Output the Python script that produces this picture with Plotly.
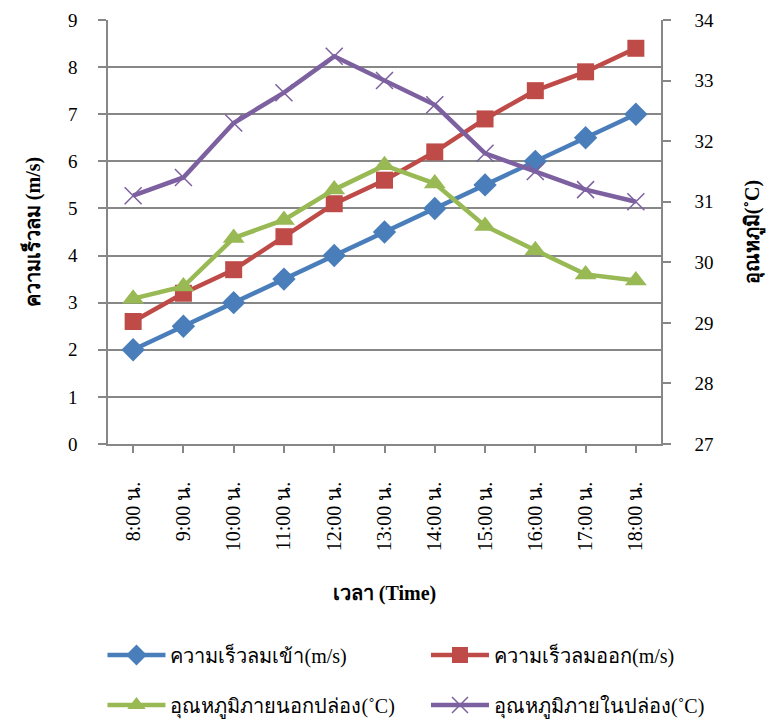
import plotly.graph_objects as go

categories = ["8:00 น.", "9:00 น.", "10:00 น.", "11:00 น.", "12:00 น.", "13:00 น.",
              "14:00 น.", "15:00 น.", "16:00 น.", "17:00 น.", "18:00 น."]
wind_in = [2.0, 2.5, 3.0, 3.5, 4.0, 4.5, 5.0, 5.5, 6.0, 6.5, 7.0]
wind_out = [2.6, 3.2, 3.7, 4.4, 5.1, 5.6, 6.2, 6.9, 7.5, 7.9, 8.4]
temp_out = [29.4, 29.6, 30.4, 30.7, 31.2, 31.6, 31.3, 30.6, 30.2, 29.8, 29.7]
temp_in = [31.1, 31.4, 32.3, 32.8, 33.4, 33.0, 32.6, 31.8, 31.5, 31.2, 31.0]

names = ["ความเร็วลมเข้า(m/s)", "ความเร็วลมออก(m/s)",
         "อุณหภูมิภายนอกปล่อง(˚C)", "อุณหภูมิภายในปล่อง(˚C)"]

FONT = "Liberation Serif, Times New Roman, serif"
GRID = "#878787"

fig = go.Figure()
fig.add_trace(go.Scatter(x=categories, y=wind_in, name=names[0], mode="lines+markers",
                         line=dict(color="#4A7EBB", width=4.5),
                         marker=dict(symbol="diamond", size=18, color="#4A7EBB"),
                         legend="legend", showlegend=True))
fig.add_trace(go.Scatter(x=categories, y=wind_out, name=names[1], mode="lines+markers",
                         line=dict(color="#BE4B48", width=4.5),
                         marker=dict(symbol="square", size=17, color="#BE4B48"),
                         legend="legend2", showlegend=True))
fig.add_trace(go.Scatter(x=categories, y=temp_out, name=names[2], mode="lines+markers",
                         line=dict(color="#98B954", width=4.5),
                         marker=dict(symbol="triangle-up", size=19, color="#98B954"),
                         yaxis="y2", legend="legend3", showlegend=True))
fig.add_trace(go.Scatter(x=categories, y=temp_in, name=names[3], mode="lines+markers",
                         line=dict(color="#7D60A0", width=4.5),
                         marker=dict(symbol="x-thin-open", size=17, color="#7D60A0",
                                     line=dict(color="#7D60A0", width=1.5)),
                         yaxis="y2", legend="legend4", showlegend=True))

def leg(x, y):
    return dict(orientation="h", x=x, xanchor="left", y=y, yanchor="middle",
                font=dict(size=20), itemwidth=58, bgcolor="rgba(0,0,0,0)")

fig.update_layout(
    width=774, height=722,
    showlegend=True,
    margin=dict(l=108, r=113, t=20, b=278, autoexpand=False),
    paper_bgcolor="white", plot_bgcolor="white",
    font=dict(family=FONT, size=19, color="black"),
    xaxis=dict(type="category", showline=True, linecolor=GRID, linewidth=1.5,
               ticks="outside", ticklen=7, tickcolor=GRID, tickwidth=1.5,
               tickangle=-90, tickfont=dict(size=20), showgrid=False,
               ticklabelstandoff=21,
               range=[-0.5, 10.5],
               title=dict(text="<b>เวลา (Time)</b>", font=dict(size=20), standoff=36)),
    yaxis=dict(range=[0, 9], dtick=1, showline=True, linecolor=GRID, linewidth=1.5,
               ticks="outside", ticklen=8, tickcolor=GRID, tickwidth=1.5,
               showgrid=True, gridcolor=GRID, gridwidth=1.5, zeroline=False,
               tickfont=dict(size=19), ticklabelstandoff=17,
               title=dict(text="<b>ความเร็วลม (m/s)</b>", font=dict(size=20), standoff=22)),
    yaxis2=dict(range=[27, 34], dtick=1, overlaying="y", side="right",
                showline=True, linecolor=GRID, linewidth=1.5,
                ticks="outside", ticklen=8, tickcolor=GRID, tickwidth=1.5,
                showgrid=False, zeroline=False, tickfont=dict(size=19),
                ticklabelstandoff=20,
                title=dict(text="<b>อุณหภูมิ(˚C)</b>", font=dict(size=20), standoff=32)),
    legend=leg(-0.01, -0.4976),
    legend2=leg(0.575, -0.4976),
    legend3=leg(-0.01, -0.6156),
    legend4=leg(0.575, -0.6156),
)

fig.write_html("out.html")
